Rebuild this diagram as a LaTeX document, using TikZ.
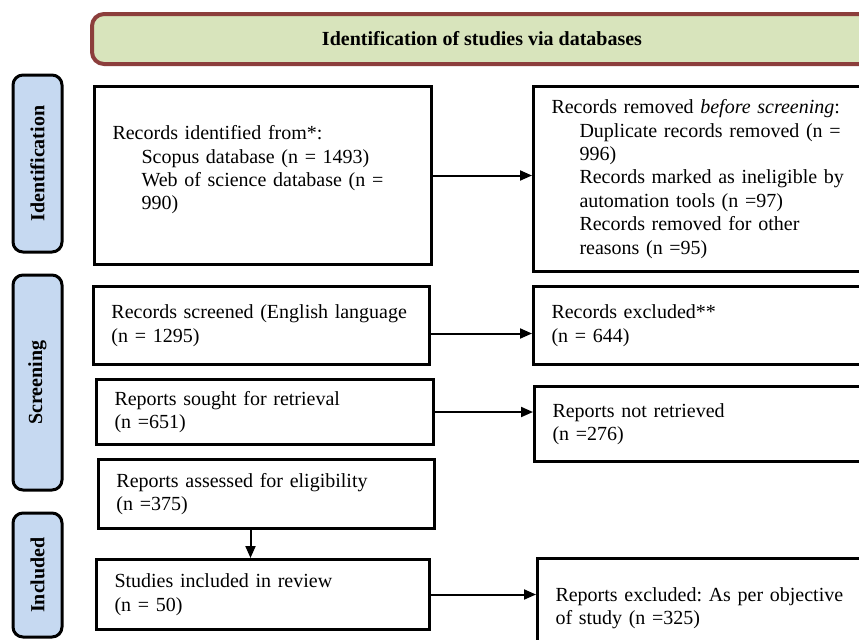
\documentclass[tikz,border=0pt]{standalone}
\usepackage{fontspec}
\setmainfont{Liberation Serif}
\usetikzlibrary{positioning,calc,arrows.meta}
\definecolor{HeadFill}{RGB}{216,228,188}
\definecolor{HeadLine}{RGB}{140,62,60}
\definecolor{SideFill}{RGB}{198,217,241}

\begin{document}
\begin{tikzpicture}[
        x=0.5pt, y=-0.5pt,
        % --- STYLE CHUNG ---
        box/.style={
            draw=black,
            line width=1.5pt,
            fill=white,
            align=left,
            inner xsep=9pt,
            anchor=north west,
            font=\fontsize{10}{11.7}\selectfont\frenchspacing
        },
        % Nhan ben trai (xanh nhat)
        sidelabel/.style={
            draw=black,
            line width=1.5pt,
            fill=SideFill,
            rounded corners=5pt,
            rotate=90,
            minimum height=24.5pt,
            inner sep=0pt,
            font=\bfseries\fontsize{10}{12}\selectfont
        },
        % Tieu de tren cung
        header/.style={
            draw=HeadLine,
            line width=2pt,
            fill=HeadFill,
            rounded corners=6pt,
            anchor=north west,
            font=\bfseries\fontsize{10}{12}\selectfont
        },
        % Mui ten
        arr/.style={
            line width=1pt,
            -{Triangle[length=6pt,width=5pt]}
        }
    ]

        % --- KHUNG ---
        \useasboundingbox (0,0) rectangle (859,639);
        \clip (0,0) rectangle (859,639);
        \fill[white] (0,0) rectangle (859,639);

        % --- TIEU DE ---
        \node[header, minimum width=390pt, minimum height=25pt] (head) at (90,12) {Identification of studies via databases};

        % --- NHAN GIAI DOAN ---
        \node[sidelabel, minimum width=88.5pt] (lbIdent) at (37.5,163.5) {Identification};
        \node[sidelabel, minimum width=107.5pt] (lbScreen) at (37.5,382.5) {Screening};
        \node[sidelabel, minimum width=62pt] (lbIncl) at (37.5,575) {Included};

        % --- COT TRAI ---
        \node[box, text width=150.5pt, minimum height=89pt] (ident) at (93,85)
            {Records identified from*:\\
             \hspace*{14.5pt}Scopus database (n = 1493)\\
             \hspace*{14.5pt}Web of science database (n =\\
             \hspace*{14.5pt}990)\\[-4pt]\mbox{}};
        \node[box, text width=150pt, minimum height=39pt] (screened) at (92,285)
            {Records screened (English language\\(n = 1295)};
        \node[box, text width=150.5pt, minimum height=32.5pt] (sought) at (95,378)
            {Reports sought for retrieval\\(n =651)};
        \node[box, text width=150pt, minimum height=34.5pt] (assessed) at (97,458)
            {Reports assessed for eligibility\\(n =375)};
        \node[box, text width=148.5pt, minimum height=35pt] (included) at (95,558)
            {Studies included in review\\(n = 50)};

        % --- COT PHAI ---
        \node[box, text width=151pt, minimum height=92.5pt] (removed) at (532,85)
            {Records removed \textit{before screening}:\\
             \hspace*{14pt}Duplicate records removed (n =\\
             \hspace*{14pt}996)\\
             \hspace*{14pt}Records marked as ineligible by\\
             \hspace*{14pt}automation tools (n =97)\\
             \hspace*{14pt}Records removed for other\\
             \hspace*{14pt}reasons (n =95)};
        \node[box, text width=151pt, minimum height=39pt] (excluded) at (532,285)
            {Records excluded**\\(n = 644)};
        \node[box, text width=150.5pt, minimum height=37.5pt] (notretr) at (533,385)
            {Reports not retrieved\\(n =276)};
        \node[box, text width=150.5pt, minimum height=50pt] (objexcl) at (536,557)
            {Reports excluded: As per objective\\of study (n =325)};

        % --- MUI TEN ---
        \coordinate (sA) at ($(screened.east)+(0,8)$);
        \coordinate (aA) at ($(assessed.south)+(-16,0)$);
        \draw[arr] (ident.east) -- (ident.east -| removed.west);
        \draw[arr] (sA) -- (sA -| excluded.west);
        \draw[arr] (sought.east) -- (sought.east -| notretr.west);
        \draw[arr] (aA) -- (aA |- included.north);
        \draw[arr] (included.east) -- (included.east -| objexcl.west);

    \end{tikzpicture}
\end{document}
